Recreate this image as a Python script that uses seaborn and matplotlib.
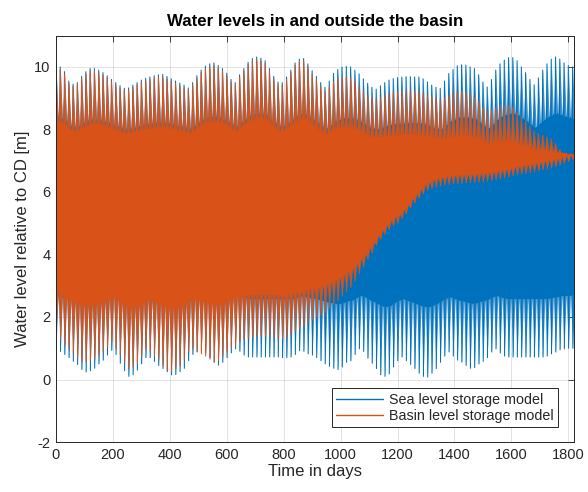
import numpy as np
import pandas as pd
import matplotlib
matplotlib.use("Agg")
import matplotlib.pyplot as plt
import seaborn as sns

# ---------------- data ----------------
# one spring-neap cycle every 15 days; per cycle: spring high, spring low, neap high, neap low
cycle_start_days = np.arange(0, 1820, 15)

sea_initial = 0.0
sea_spring_high = [
    10.1, 10.0, 9.85, 9.55, 9.45, 9.5, 9.7, 9.85, 9.95, 9.95,
    9.9, 9.82, 9.72, 9.6, 9.5, 9.4, 9.32, 9.33, 9.42, 9.5,
    9.58, 9.64, 9.68, 9.72, 9.75, 9.76, 9.7, 9.62, 9.55, 9.48,
    9.42, 9.33, 9.5, 9.72, 9.9, 10.03, 10.1, 10.13, 10.05, 9.95,
    9.8, 9.6, 9.5, 9.75, 9.95, 10.15, 10.27, 10.32, 10.28, 10.2,
    9.95, 9.7, 9.52, 9.5, 9.68, 9.9, 10.13, 10.25, 10.27, 10.1,
    9.88, 9.7, 9.5, 9.35, 9.55, 9.8, 9.92, 10.0, 10.02, 10.0,
    9.9, 9.78, 9.62, 9.48, 9.35, 9.29, 9.4, 9.5, 9.58, 9.63,
    9.66, 9.68, 9.69, 9.69, 9.68, 9.68, 9.62, 9.52, 9.42, 9.35,
    9.32, 9.55, 9.79, 9.92, 10.04, 10.07, 10.06, 10.0, 9.95, 9.75,
    9.52, 9.36, 9.6, 9.9, 10.1, 10.22, 10.3, 10.3, 10.2, 10.0,
    9.82, 9.6, 9.43, 9.65, 9.9, 10.1, 10.25, 10.32, 10.25, 10.13,
    10.05, 10.0]
sea_spring_low = [
    1.0, 0.9, 0.8, 0.7, 0.58, 0.48, 0.32, 0.24, 0.28, 0.36,
    0.5, 0.62, 0.78, 0.93, 0.8, 0.52, 0.28, 0.1, 0.15, 0.3,
    0.5, 0.7, 0.7, 0.58, 0.45, 0.35, 0.25, 0.15, 0.16, 0.25,
    0.36, 0.6, 0.8, 0.88, 0.92, 0.85, 0.7, 0.55, 0.46, 0.55,
    0.7, 0.85, 0.98, 0.9, 0.78, 0.72, 0.72, 0.72, 0.72, 0.72,
    0.72, 0.72, 0.72, 0.7, 0.7, 0.72, 0.8, 0.92, 0.9, 0.82,
    0.78, 0.7, 0.6, 0.5, 0.42, 0.36, 0.32, 0.4, 0.55, 0.6,
    0.8, 0.98, 0.9, 0.68, 0.52, 0.35, 0.15, 0.1, 0.18, 0.4,
    0.6, 0.72, 0.6, 0.48, 0.35, 0.2, 0.1, 0.08, 0.2, 0.35,
    0.55, 0.75, 0.88, 0.75, 0.62, 0.55, 0.45, 0.36, 0.38, 0.5,
    0.58, 0.7, 0.88, 0.98, 0.85, 0.75, 0.72, 0.72, 0.72, 0.72,
    0.72, 0.72, 0.72, 0.72, 0.72, 0.75, 0.82, 0.88, 0.95, 0.98,
    1.0, 1.0]
sea_neap_high = [
    8.4, 8.35, 8.28, 8.12, 8.08, 8.1, 8.2, 8.28, 8.32, 8.32,
    8.3, 8.26, 8.21, 8.15, 8.1, 8.05, 8.01, 8.02, 8.06, 8.1,
    8.14, 8.17, 8.19, 8.21, 8.22, 8.23, 8.2, 8.16, 8.12, 8.09,
    8.06, 8.02, 8.1, 8.21, 8.3, 8.36, 8.4, 8.41, 8.37, 8.32,
    8.25, 8.15, 8.1, 8.22, 8.32, 8.42, 8.48, 8.51, 8.49, 8.45,
    8.32, 8.2, 8.11, 8.1, 8.19, 8.3, 8.41, 8.47, 8.48, 8.4,
    8.29, 8.2, 8.1, 8.02, 8.12, 8.25, 8.31, 8.35, 8.36, 8.35,
    8.3, 8.24, 8.16, 8.09, 8.02, 8.0, 8.05, 8.1, 8.14, 8.16,
    8.18, 8.19, 8.2, 8.2, 8.19, 8.19, 8.16, 8.11, 8.06, 8.02,
    8.01, 8.12, 8.25, 8.31, 8.37, 8.38, 8.38, 8.35, 8.32, 8.22,
    8.11, 8.03, 8.15, 8.3, 8.4, 8.46, 8.5, 8.5, 8.45, 8.35,
    8.26, 8.15, 8.06, 8.18, 8.3, 8.4, 8.47, 8.51, 8.47, 8.41,
    8.38, 8.35]
sea_neap_low = [
    2.7, 2.66, 2.62, 2.58, 2.53, 2.49, 2.43, 2.4, 2.41, 2.44,
    2.5, 2.55, 2.61, 2.67, 2.62, 2.51, 2.41, 2.34, 2.36, 2.42,
    2.5, 2.58, 2.58, 2.53, 2.48, 2.44, 2.4, 2.36, 2.36, 2.4,
    2.44, 2.54, 2.62, 2.65, 2.67, 2.64, 2.58, 2.52, 2.48, 2.52,
    2.58, 2.64, 2.69, 2.66, 2.61, 2.59, 2.59, 2.59, 2.59, 2.59,
    2.59, 2.59, 2.59, 2.58, 2.58, 2.59, 2.62, 2.67, 2.66, 2.63,
    2.61, 2.58, 2.54, 2.5, 2.47, 2.44, 2.43, 2.46, 2.52, 2.54,
    2.62, 2.69, 2.66, 2.57, 2.51, 2.44, 2.36, 2.34, 2.37, 2.46,
    2.54, 2.59, 2.54, 2.49, 2.44, 2.38, 2.34, 2.33, 2.38, 2.44,
    2.52, 2.6, 2.65, 2.6, 2.55, 2.52, 2.48, 2.44, 2.45, 2.5,
    2.53, 2.58, 2.65, 2.69, 2.64, 2.6, 2.59, 2.59, 2.59, 2.59,
    2.59, 2.59, 2.59, 2.59, 2.59, 2.6, 2.63, 2.65, 2.68, 2.69,
    2.7, 2.7]

basin_spring_high = [
    10.0, 9.92, 9.78, 9.48, 9.38, 9.43, 9.62, 9.78, 9.88, 9.88,
    9.83, 9.75, 9.65, 9.53, 9.43, 9.33, 9.25, 9.26, 9.35, 9.43,
    9.5, 9.56, 9.6, 9.64, 9.67, 9.68, 9.62, 9.54, 9.47, 9.4,
    9.34, 9.26, 9.42, 9.64, 9.82, 9.95, 10.02, 10.05, 9.97, 9.87,
    9.72, 9.52, 9.42, 9.67, 9.87, 10.07, 10.19, 10.24, 10.2, 10.12,
    9.87, 9.62, 9.44, 9.42, 9.6, 9.82, 10.05, 10.17, 10.19, 10.02,
    9.78, 9.58, 9.38, 9.22, 9.35, 9.52, 9.62, 9.67, 9.68, 9.65,
    9.55, 9.4, 9.22, 9.08, 9.0, 8.98, 9.02, 9.08, 9.14, 9.18,
    9.2, 9.22, 9.23, 9.23, 9.23, 9.2, 9.15, 9.1, 9.05, 9.0,
    8.98, 9.0, 9.08, 9.15, 9.2, 9.22, 9.2, 9.12, 9.02, 8.9,
    8.7, 8.58, 8.62, 8.7, 8.75, 8.77, 8.75, 8.7, 8.55, 8.4,
    8.25, 8.1, 7.95, 7.88, 7.82, 7.76, 7.7, 7.55, 7.35, 7.25,
    7.2, 7.2]
basin_spring_low = [
    1.45, 1.3, 1.1, 0.98, 0.85, 0.7, 0.58, 0.56, 0.62, 0.68,
    0.78, 0.88, 1.05, 1.2, 1.0, 0.8, 0.55, 0.35, 0.4, 0.52,
    0.75, 0.95, 0.9, 0.75, 0.65, 0.45, 0.28, 0.25, 0.35, 0.45,
    0.65, 0.9, 0.98, 0.9, 0.82, 0.75, 0.65, 0.56, 0.6, 0.75,
    0.88, 1.0, 1.1, 1.2, 1.28, 1.32, 1.35, 1.38, 1.4, 1.4,
    1.38, 1.35, 1.32, 1.3, 1.35, 1.45, 1.55, 1.62, 1.72, 1.82,
    1.9, 1.98, 2.06, 2.15, 2.3, 2.42, 2.52, 2.68, 2.82, 2.95,
    3.15, 3.4, 3.6, 3.85, 4.05, 4.3, 4.5, 4.65, 4.8, 4.92,
    5.0, 5.15, 5.3, 5.5, 5.65, 5.8, 5.95, 6.05, 6.12, 6.16,
    6.2, 6.22, 6.24, 6.26, 6.27, 6.28, 6.29, 6.3, 6.31, 6.32,
    6.33, 6.35, 6.37, 6.4, 6.42, 6.45, 6.48, 6.52, 6.55, 6.58,
    6.6, 6.62, 6.65, 6.68, 6.72, 6.75, 6.78, 6.82, 6.86, 6.92,
    6.98, 7.05]
basin_neap_high = [
    8.25, 8.2, 8.12, 7.97, 7.93, 7.95, 8.05, 8.12, 8.17, 8.17,
    8.15, 8.11, 8.06, 8.0, 7.95, 7.9, 7.86, 7.87, 7.91, 7.95,
    7.99, 8.02, 8.04, 8.06, 8.07, 8.08, 8.05, 8.01, 7.97, 7.94,
    7.91, 7.87, 7.95, 8.06, 8.15, 8.21, 8.25, 8.26, 8.22, 8.17,
    8.1, 8.0, 7.95, 8.07, 8.17, 8.27, 8.33, 8.36, 8.34, 8.3,
    8.17, 8.05, 7.96, 7.95, 8.04, 8.15, 8.26, 8.32, 8.33, 8.25,
    8.12, 8.02, 7.92, 7.85, 7.92, 8.0, 8.05, 8.08, 8.08, 8.06,
    8.0, 7.94, 7.86, 7.8, 7.76, 7.74, 7.76, 7.78, 7.8, 7.82,
    7.83, 7.84, 7.84, 7.84, 7.83, 7.82, 7.8, 7.77, 7.75, 7.72,
    7.7, 7.71, 7.74, 7.77, 7.79, 7.8, 7.79, 7.76, 7.72, 7.68,
    7.6, 7.55, 7.57, 7.6, 7.62, 7.63, 7.62, 7.6, 7.55, 7.5,
    7.45, 7.4, 7.36, 7.34, 7.32, 7.3, 7.28, 7.26, 7.25, 7.24,
    7.22, 7.22]
basin_neap_low = [
    2.75, 2.7, 2.62, 2.58, 2.52, 2.45, 2.4, 2.38, 2.4, 2.44,
    2.48, 2.52, 2.6, 2.68, 2.58, 2.48, 2.38, 2.3, 2.32, 2.38,
    2.48, 2.58, 2.56, 2.5, 2.44, 2.36, 2.3, 2.28, 2.32, 2.36,
    2.45, 2.56, 2.6, 2.56, 2.52, 2.48, 2.44, 2.4, 2.42, 2.48,
    2.55, 2.6, 2.65, 2.68, 2.7, 2.72, 2.72, 2.74, 2.75, 2.75,
    2.74, 2.72, 2.7, 2.7, 2.72, 2.76, 2.8, 2.82, 2.86, 2.9,
    2.92, 2.96, 3.0, 3.05, 3.12, 3.2, 3.26, 3.35, 3.45, 3.56,
    3.7, 3.85, 4.0, 4.2, 4.38, 4.6, 4.78, 4.93, 5.07, 5.2,
    5.28, 5.43, 5.58, 5.78, 5.93, 6.08, 6.23, 6.33, 6.4, 6.44,
    6.48, 6.5, 6.52, 6.54, 6.55, 6.56, 6.57, 6.58, 6.59, 6.6,
    6.61, 6.63, 6.65, 6.68, 6.7, 6.73, 6.76, 6.8, 6.83, 6.86,
    6.88, 6.9, 6.93, 6.96, 7.0, 7.02, 7.05, 7.08, 7.11, 7.15,
    7.18, 7.2]

series_names = ["Sea level storage model", "Basin level storage model"]
x_ticks = [0, 200, 400, 600, 800, 1000, 1200, 1400, 1600, 1800]
y_ticks = [-2, 0, 2, 4, 6, 8, 10]

# ---------------- build long table ----------------
phase_offsets = np.array([0.0, 1.0, 7.5, 8.5])  # time within a cycle of each turning point

def tide_series(hs, ls, hn, ln):
    t = (cycle_start_days[:, None] + phase_offsets[None, :]).ravel()
    v = np.column_stack([hs, ls, hn, ln]).ravel()
    return t, v

t_sea, v_sea = tide_series(sea_spring_high, sea_spring_low, sea_neap_high, sea_neap_low)
t_sea = np.concatenate([[0.0], t_sea])
v_sea = np.concatenate([[sea_initial], v_sea])
t_bas, v_bas = tide_series(basin_spring_high, basin_spring_low, basin_neap_high, basin_neap_low)

df = pd.concat([
    pd.DataFrame({"day": t_sea, "level": v_sea, "series": series_names[0]}),
    pd.DataFrame({"day": t_bas, "level": v_bas, "series": series_names[1]}),
], ignore_index=True)

envelopes = {
    series_names[0]: (sea_spring_high, sea_spring_low, sea_neap_high, sea_neap_low),
    series_names[1]: (basin_spring_high, basin_spring_low, basin_neap_high, basin_neap_low),
}

# ---------------- plot ----------------
sns.set_style("white")
plt.rcParams["font.family"] = ["Liberation Sans", "DejaVu Sans"]
plt.rcParams["axes.unicode_minus"] = False

fig = plt.figure(figsize=(5.88, 4.92), dpi=100)
ax = fig.add_axes([0.0952, 0.1016, 0.9762 - 0.0952, 0.9274 - 0.1016])

colors = {series_names[0]: "#0072BD", series_names[1]: "#D95319"}
band_alpha = {series_names[0]: 0.75, series_names[1]: 0.85}

for name in series_names:
    hs, ls, hn, ln = envelopes[name]
    # spring-neap envelope (sawtooth), lighter
    t_env = np.column_stack([cycle_start_days, cycle_start_days + 7.5]).ravel()
    up_env = np.column_stack([hs, hn]).ravel()
    lo_env = np.column_stack([ls, ln]).ravel()
    ax.fill_between(t_env, lo_env, up_env, color=colors[name], alpha=band_alpha[name],
                    linewidth=0, zorder=2)
    # neap core, solid
    ax.fill_between(cycle_start_days + 3.75, ln, hn, color=colors[name], linewidth=0, zorder=2)
    # individual tidal swings
    sns.lineplot(data=df[df["series"] == name], x="day", y="level", color=colors[name],
                 sort=False, estimator=None, linewidth=0.75, ax=ax, label=name, zorder=2)

ax.set_xlim(0, 1820)
ax.set_ylim(-2, 11)
ax.set_xticks(x_ticks)
ax.set_yticks(y_ticks)
ax.set_axisbelow(True)
ax.grid(True, color="#262626", alpha=0.15, linewidth=0.6)

dark = "#262626"
for s in ax.spines.values():
    s.set_visible(True)
    s.set_color(dark)
    s.set_linewidth(0.7)
    s.set_zorder(5)
ax.tick_params(direction="in", length=4, width=0.6, color=dark, labelcolor=dark,
               labelsize=10.5, top=True, right=True, pad=4)

ax.set_xlabel("Time in days", fontsize=12, color=dark, labelpad=2)
ax.set_ylabel("Water level relative to CD [m]", fontsize=12, color=dark, labelpad=3)
ax.set_title("Water levels in and outside the basin", fontsize=12.2, fontweight="bold",
             color="black", pad=7)

handles, labels = ax.get_legend_handles_labels()
leg = ax.legend(handles, labels, loc="lower right", bbox_to_anchor=(0.969, 0.037),
                borderaxespad=0, fontsize=10.3, frameon=True, fancybox=False,
                edgecolor=dark, framealpha=1, handlelength=3.3, handletextpad=0.4,
                borderpad=0.3, labelspacing=0.15)
leg.get_frame().set_linewidth(0.7)
leg.set_zorder(6)
for line in leg.get_lines():
    line.set_linewidth(1.0)
    line.set_alpha(1.0)
for txt in leg.get_texts():
    txt.set_color(dark)

fig.savefig("out.png", dpi=100)
